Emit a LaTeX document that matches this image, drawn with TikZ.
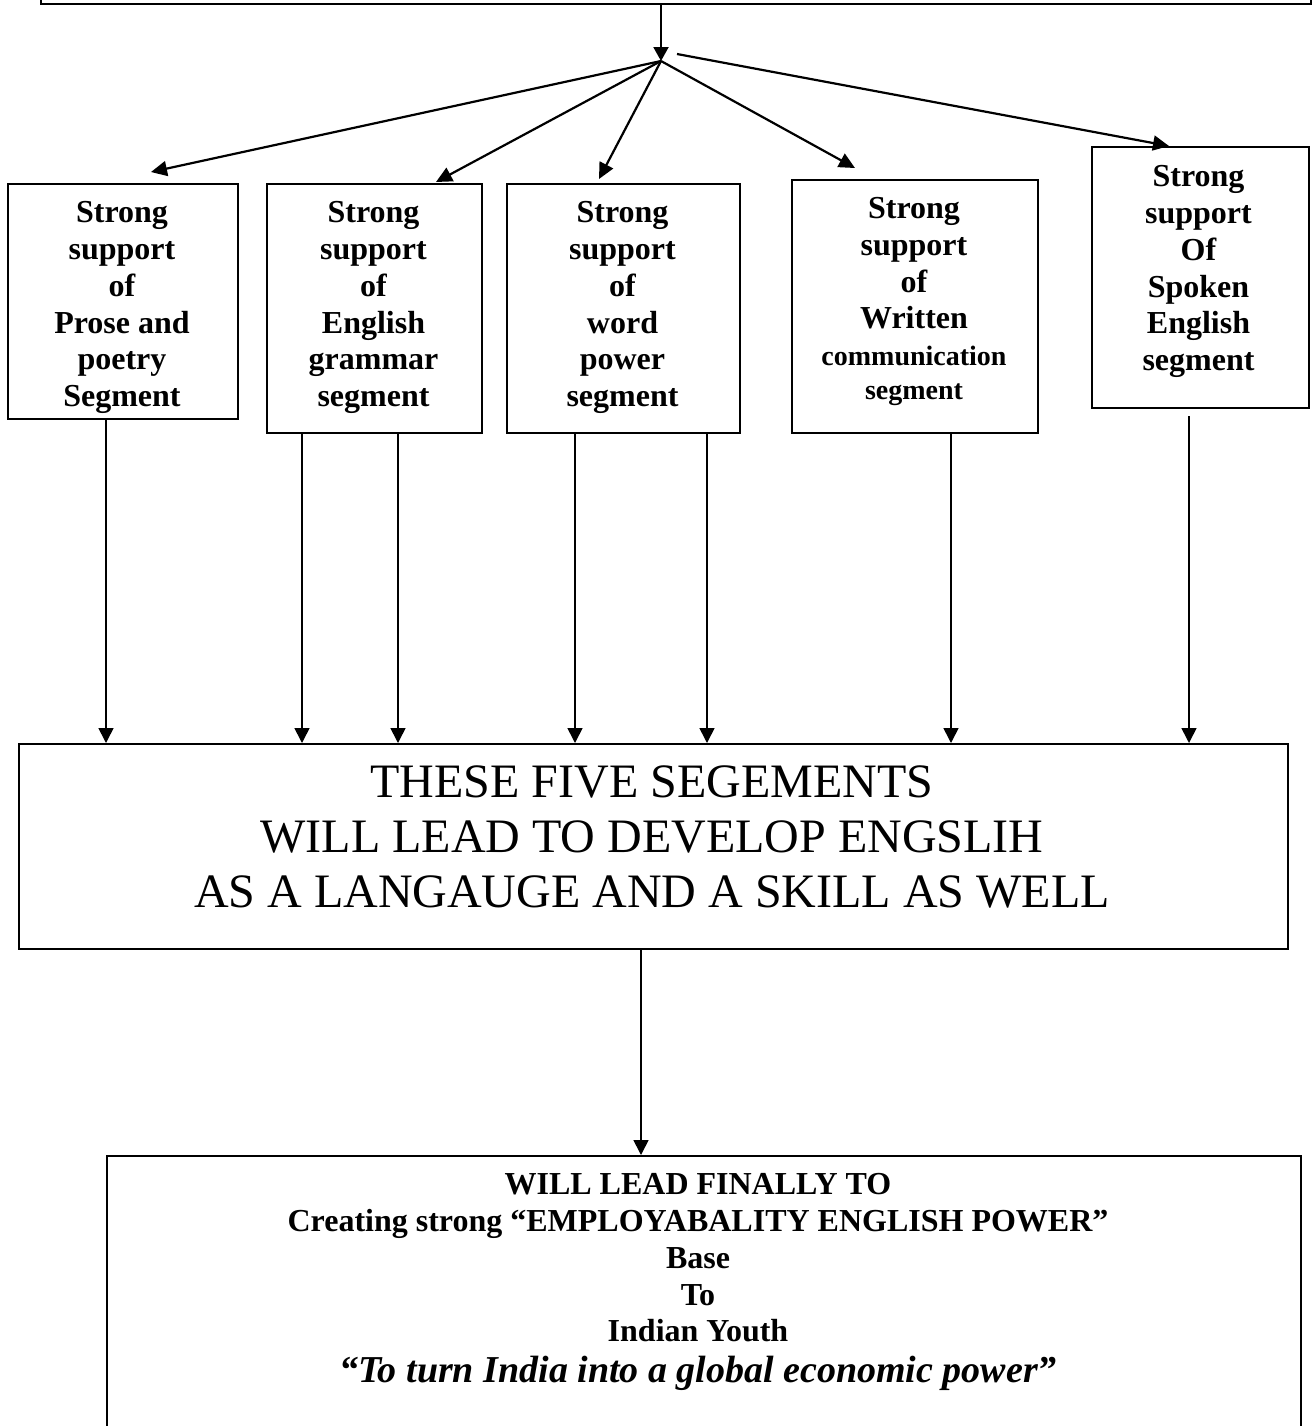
\documentclass[tikz,border=0pt]{standalone}
\usepackage{fontspec}
\setmainfont{Liberation Serif}
\usetikzlibrary{arrows.meta}
\begin{document}
\begin{tikzpicture}[x=0.5pt,y=-0.5pt,
  boxstyle/.style={draw,line width=1pt,inner sep=0pt,anchor=north west},
  segtext/.style={font=\fontsize{16}{18.4}\selectfont\bfseries,align=center,inner sep=0pt,anchor=north},
  diag/.style={line width=1.1pt,-{Triangle[length=8pt,width=7.5pt]}},
  vline/.style={line width=0.8pt,-{Triangle[length=7.5pt,width=7.5pt]}}]
\useasboundingbox (0,0) rectangle (1314,1426);

% boxes
\node[boxstyle,minimum width=635pt,minimum height=31.5pt] (top) at (40,-60) {};
\node[boxstyle,minimum width=115pt,minimum height=117.5pt] (b1) at (7,183) {};
\node[boxstyle,minimum width=107.5pt,minimum height=124.5pt] (b2) at (266,183) {};
\node[boxstyle,minimum width=116.5pt,minimum height=124.5pt] (b3) at (506,183) {};
\node[boxstyle,minimum width=123pt,minimum height=126.5pt] (b4) at (791,179) {};
\node[boxstyle,minimum width=108.5pt,minimum height=130.5pt] (b5) at (1091,146) {};
\node[boxstyle,minimum width=634.5pt,minimum height=102.5pt] (mid) at (18,743) {};
\node[boxstyle,minimum width=597pt,minimum height=150pt] (final) at (106,1155) {};

% texts
\node[segtext] (t1) at (122,201) {Strong\\support\\of\\Prose and\\poetry\\Segment};
\node[segtext] (t2) at (373.5,201) {Strong\\support\\of\\English\\grammar\\segment};
\node[segtext] (t3) at (622.5,201) {Strong\\support\\of\\word\\power\\segment};
\node[segtext] (t4) at (914,197) {Strong\\support\\of\\Written\\{\fontsize{14}{16}\selectfont communication}\\[-1.5pt]{\fontsize{14}{16}\selectfont segment}};
\node[segtext] (t5) at (1198.5,165) {Strong\\support\\Of\\Spoken\\English\\segment};
\node[font=\fontsize{24}{27.6}\selectfont,align=center,inner sep=0pt,anchor=north] (tm) at (652,765)
  {THESE FIVE SEGEMENTS\\WILL LEAD TO DEVELOP ENGSLIH\\AS A LANGAUGE AND A SKILL AS WELL};
\node[segtext] (tf) at (698,1173)
  {WILL LEAD FINALLY TO\\Creating strong “EMPLOYABALITY ENGLISH POWER”\\Base\\To\\Indian Youth\\[2pt]{\fontsize{19}{22}\selectfont\itshape “To turn India into a global economic power”}};

% hub and arrow tips
\coordinate (hub) at (661,61);
\coordinate (hubr) at (677,54);
\coordinate (tip1) at (151,172);
\coordinate (tip2) at (436,182);
\coordinate (tip3) at (599,179);
\coordinate (tip4) at (855,168);
\coordinate (tip5) at (1169,146);

\draw[line width=1pt,-{Triangle[length=7pt,width=7.5pt]}] (top.south -| hub) -- (hub);
\draw[diag] (hub) -- (tip1);
\draw[diag] (hub) -- (tip2);
\draw[diag] (hub) -- (tip3);
\draw[diag] (hub) -- (tip4);
\draw[diag] (hubr) -- (tip5);

% down connectors
\coordinate (d1) at (106,0);
\coordinate (d2) at (302,0);
\coordinate (d3) at (398,0);
\coordinate (d4) at (575,0);
\coordinate (d5) at (707,0);
\coordinate (d6) at (951,0);
\coordinate (d7) at (1189,0);
\coordinate (fx) at (641,0);

\draw[vline] (d1 |- b1.south) -- (d1 |- mid.north);
\draw[vline] (d2 |- b2.south) -- (d2 |- mid.north);
\draw[vline] (d3 |- b2.south) -- (d3 |- mid.north);
\draw[vline] (d4 |- b3.south) -- (d4 |- mid.north);
\draw[vline] (d5 |- b3.south) -- (d5 |- mid.north);
\draw[vline] (d6 |- b4.south) -- (d6 |- mid.north);
\draw[vline] (d7 |- b5.south) ++(0,7) -- (d7 |- mid.north);
\draw[vline] (fx |- mid.south) -- (fx |- final.north);
\end{tikzpicture}
\end{document}
